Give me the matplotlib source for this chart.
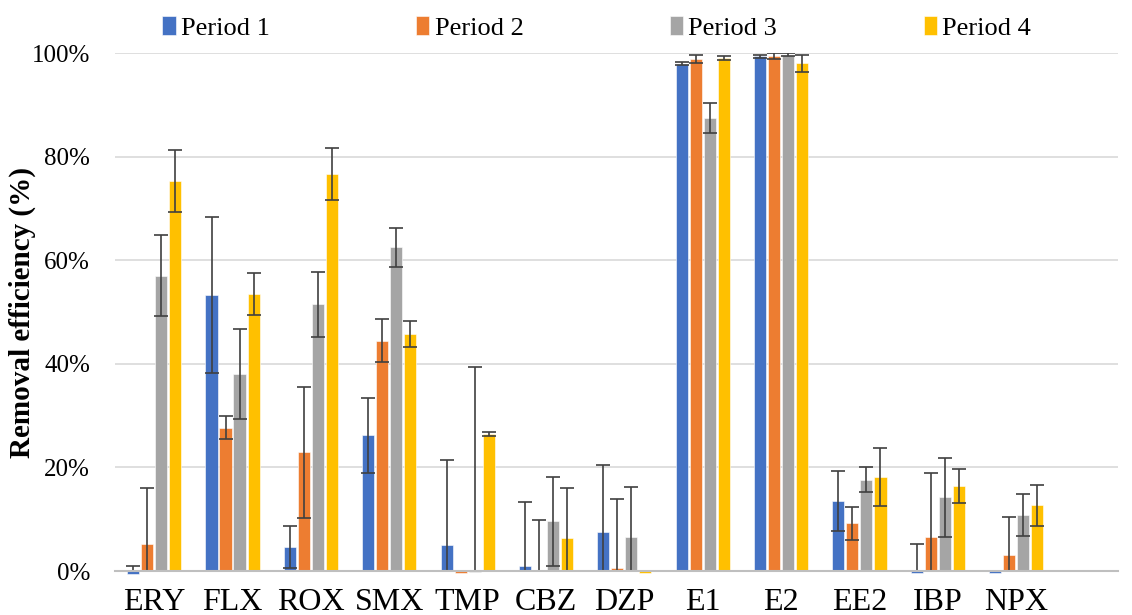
import matplotlib
matplotlib.use("Agg")
import matplotlib.pyplot as plt
import numpy as np

categories = ["ERY", "FLX", "ROX", "SMX", "TMP", "CBZ", "DZP", "E1", "E2", "EE2", "IBP", "NPX"]
series_names = ["Period 1", "Period 2", "Period 3", "Period 4"]

period1 = [-0.5, 53.3, 4.6, 26.2, 5.1, 1.0, 7.6, 97.9, 99.4, 13.6, -0.4, -0.4]
period2 = [5.3, 27.7, 22.9, 44.5, -0.3, 0.0, 0.5, 98.8, 99.4, 9.2, 6.6, 3.0]
period3 = [57.0, 38.0, 51.5, 62.5, -0.2, 9.6, 6.6, 87.5, 99.7, 17.6, 14.2, 10.8]
period4 = [75.3, 53.5, 76.7, 45.8, 26.4, 6.4, -0.4, 99.0, 98.0, 18.2, 16.4, 12.7]

err1 = [1.5, 15.0, 4.0, 7.2, 16.4, 12.3, 12.9, 0.3, 0.3, 5.8, 5.7, 0.3]
err2 = [10.7, 2.2, 12.7, 4.1, 0.3, 9.8, 13.5, 0.8, 0.6, 3.2, 12.3, 7.5]
err3 = [7.8, 8.7, 6.3, 3.8, 39.5, 8.6, 9.7, 2.9, 0.3, 2.4, 7.6, 4.1]
err4 = [6.0, 4.0, 5.0, 2.5, 0.4, 9.6, 0.3, 0.4, 1.6, 5.6, 3.2, 4.0]

colors = ["#4472C4", "#ED7D31", "#A5A5A5", "#FFC000"]

values = [period1, period2, period3, period4]
errors = [err1, err2, err3, err4]

plt.rcParams['font.family'] = ['Liberation Serif', 'DejaVu Serif']

fig = plt.figure(figsize=(11.32, 6.15), dpi=100)
ax = fig.add_axes([0.1016, 0.0715, 0.886, 0.8423])

x = np.arange(len(categories))
step = 0.179
width = 0.155
for i, (vals, errs, c, name) in enumerate(zip(values, errors, colors, series_names)):
    pos = x + (i - 1.5) * step
    bars = ax.bar(pos, vals, width=width, color=c, label=name, zorder=3,
                  edgecolor='white', linewidth=0.4)
    for b in bars:
        b.set_clip_on(False)
    ax.errorbar(pos, vals, yerr=errs, fmt='none', ecolor='#404040',
                elinewidth=1.2, capsize=5, capthick=1.2, zorder=4)

ax.set_ylim(0, 100)
ax.set_xlim(-0.5, 12.3)
ax.set_yticks(np.arange(0, 101, 20))
ax.set_yticklabels([f"{v}%" for v in range(0, 101, 20)], fontsize=18)
ax.set_xticks(x)
ax.set_xticklabels(categories, fontsize=23)
ax.tick_params(axis='both', length=0)
ax.tick_params(axis='x', pad=12)
ax.tick_params(axis='y', pad=18)
ax.yaxis.grid(True, color='#D9D9D9', linewidth=1.2, zorder=0)
ax.set_axisbelow(True)
for s in ['left', 'right', 'top']:
    ax.spines[s].set_visible(False)
ax.spines['bottom'].set_color('#BFBFBF')
ax.spines['bottom'].set_linewidth(1.5)
ax.spines['bottom'].set_zorder(5)

ax.set_ylabel("Removal efficiency (%)", fontsize=21, fontweight='bold', labelpad=-3)

fig.legend(loc='upper center', bbox_to_anchor=(0.527, 1.012), ncol=4, frameon=False,
           fontsize=19, handlelength=0.5, handleheight=0.7, handletextpad=0.2,
           columnspacing=5.55)

fig.savefig("out.png", dpi=100)
